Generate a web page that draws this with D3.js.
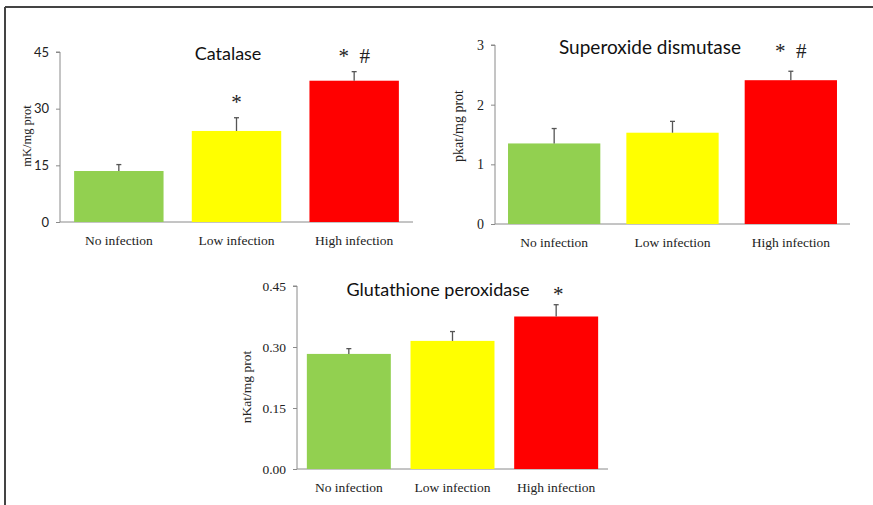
<!DOCTYPE html>
<html>
<head>
<meta charset="utf-8">
<script src="https://cdn.jsdelivr.net/npm/d3@7"></script>
<style>
  body { margin: 0; background: #fff; }
  svg { display: block; }
</style>
</head>
<body>
<svg id="chart" width="873" height="505"></svg>
<script>
// Data
const groups = ["No infection", "Low infection", "High infection"];
const colors = ["#92d050", "#ffff00", "#ff0000"];

const catalaseMean = [13.5, 24.1, 37.4];
const catalaseErr = [15.2, 27.6, 39.8];
const catalaseTicks = [0, 15, 30, 45];
const catalaseMarks = ["", "*", "* #"];

const sodMean = [1.35, 1.53, 2.41];
const sodErr = [1.60, 1.72, 2.56];
const sodTicks = [0, 1, 2, 3];
const sodMarks = ["", "", "* #"];

const gpxMean = [0.283, 0.315, 0.375];
const gpxErr = [0.296, 0.338, 0.404];
const gpxTicks = [0, 0.15, 0.30, 0.45];
const gpxMarks = ["", "", "*"];

const svg = d3.select("#chart");
const sansFont = "Lato, 'Open Sans', sans-serif";
const serifFont = "'Liberation Serif', 'DejaVu Serif', serif";

// frame (top and left edges only)
svg.append("line").attr("x1", 5).attr("x2", 873).attr("y1", 7).attr("y2", 7)
    .attr("stroke", "#444").attr("stroke-width", 2);
svg.append("line").attr("x1", 5).attr("x2", 5).attr("y1", 7).attr("y2", 505)
    .attr("stroke", "#444").attr("stroke-width", 2);

function drawPanel(opts) {
    const g = svg.append("g");
    const x = d3.scaleBand().domain(groups).range([opts.x0, opts.x1]).paddingInner(opts.pad).paddingOuter(opts.pad / 2);
    const y = d3.scaleLinear().domain([0, opts.max]).range([opts.y0, opts.y1]);

    const yAxis = d3.axisLeft(y).tickValues(opts.ticks).tickSize(4).tickFormat(opts.fmt);
    const ya = g.append("g").attr("transform", `translate(${opts.x0},0)`).call(yAxis);
    ya.select(".domain").attr("stroke", "#8a8a8a").attr("d", `M-4,${opts.y1}H0V${opts.y0}`);
    ya.selectAll(".tick line").attr("stroke", "#8a8a8a");
    ya.selectAll(".tick text").attr("font-family", opts.tickFont).attr("font-size", opts.tickSize)
        .attr("fill", "#222").attr("dx", "-4");

    g.append("line").attr("x1", opts.x0).attr("x2", opts.x1).attr("y1", opts.y0).attr("y2", opts.y0)
        .attr("stroke", "#8a8a8a");

    g.selectAll("rect.bar").data(opts.mean).join("rect").attr("class", "bar")
        .attr("x", (d, i) => x(groups[i]))
        .attr("width", x.bandwidth())
        .attr("y", (d) => y(d))
        .attr("height", (d) => opts.y0 - y(d))
        .attr("fill", (d, i) => colors[i]);

    // error bars (upper half only)
    g.selectAll("line.err").data(opts.err).join("line").attr("class", "err")
        .attr("x1", (d, i) => x(groups[i]) + x.bandwidth() / 2)
        .attr("x2", (d, i) => x(groups[i]) + x.bandwidth() / 2)
        .attr("y1", (d, i) => y(opts.mean[i]))
        .attr("y2", (d) => y(d))
        .attr("stroke", "#555").attr("stroke-width", 1.3);
    g.selectAll("line.cap").data(opts.err).join("line").attr("class", "cap")
        .attr("x1", (d, i) => x(groups[i]) + x.bandwidth() / 2 - 2.5)
        .attr("x2", (d, i) => x(groups[i]) + x.bandwidth() / 2 + 2.5)
        .attr("y1", (d) => y(d))
        .attr("y2", (d) => y(d))
        .attr("stroke", "#555").attr("stroke-width", 1.3);

    // significance marks
    g.selectAll("text.mark").data(opts.marks).join("text").attr("class", "mark")
        .attr("x", (d, i) => x(groups[i]) + x.bandwidth() / 2 + opts.markDx)
        .attr("y", (d, i) => opts.markY ? opts.markY : y(opts.err[i]) - 9)
        .attr("text-anchor", "middle")
        .attr("font-family", serifFont).attr("font-size", 21).attr("fill", "#222")
        .attr("xml:space", "preserve")
        .text((d) => d.replace(" ", "  "));

    // x labels
    g.selectAll("text.xlab").data(groups).join("text").attr("class", "xlab")
        .attr("x", (d) => x(d) + x.bandwidth() / 2)
        .attr("y", opts.y0 + 23)
        .attr("text-anchor", "middle")
        .attr("font-family", serifFont).attr("font-size", 13.5).attr("fill", "#222")
        .text((d) => d);

    // title
    g.append("text").attr("x", opts.titleX).attr("y", opts.titleY)
        .attr("text-anchor", "middle").attr("font-family", sansFont).attr("font-size", opts.titleSize)
        .attr("fill", "#111").text(opts.title);

    // y label
    g.append("text").attr("transform", `translate(${opts.ylabX},${opts.ylabY}) rotate(-90)`)
        .attr("text-anchor", "middle").attr("font-family", serifFont).attr("font-size", opts.ylabSize)
        .attr("fill", "#222").text(opts.ylab);
}

drawPanel({
    x0: 60, x1: 413, y0: 222, y1: 52, max: 45, pad: 0.24,
    ticks: catalaseTicks, fmt: d3.format("d"), tickFont: sansFont, tickSize: 13,
    mean: catalaseMean, err: catalaseErr, marks: catalaseMarks, markDx: 0,
    title: "Catalase", titleX: 228, titleY: 60, titleSize: 18,
    ylab: "mK/mg prot", ylabX: 31, ylabY: 136, ylabSize: 12.5
});

drawPanel({
    x0: 495, x1: 850, y0: 224, y1: 45, max: 3, pad: 0.22,
    ticks: sodTicks, fmt: d3.format("d"), tickFont: serifFont, tickSize: 14,
    mean: sodMean, err: sodErr, marks: sodMarks, markDx: 0, markY: 58,
    title: "Superoxide dismutase", titleX: 650, titleY: 54, titleSize: 19,
    ylab: "pkat/mg prot", ylabX: 463, ylabY: 126, ylabSize: 14
});

drawPanel({
    x0: 297, x1: 608, y0: 469, y1: 286, max: 0.45, pad: 0.19,
    ticks: gpxTicks, fmt: d3.format(".2f"), tickFont: serifFont, tickSize: 13.5,
    mean: gpxMean, err: gpxErr, marks: gpxMarks, markDx: 2, markY: 301,
    title: "Glutathione peroxidase", titleX: 438, titleY: 296, titleSize: 18,
    ylab: "nKat/mg prot", ylabX: 251, ylabY: 387, ylabSize: 13.5
});
</script>
</body>
</html>
